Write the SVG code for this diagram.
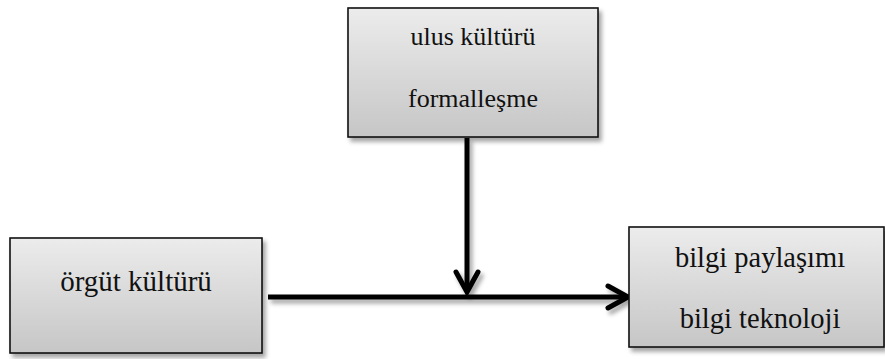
<svg xmlns="http://www.w3.org/2000/svg" width="885" height="359" viewBox="0 0 885 359">
  <defs>
    <linearGradient id="boxFill" x1="0" y1="0" x2="0" y2="1">
      <stop offset="0" stop-color="#ececec"/>
      <stop offset="1" stop-color="#c6c6c6"/>
    </linearGradient>
    <filter id="shadow" x="-10%" y="-10%" width="130%" height="140%">
      <feDropShadow dx="3" dy="4" stdDeviation="2" flood-color="#000" flood-opacity="0.35"/>
    </filter>
    <style>
      .box { fill: url(#boxFill); stroke: #111; stroke-width: 1.6; filter: url(#shadow); }
      .label { font-family: 'Liberation Serif', serif; fill: #111; text-anchor: middle; }
      .line { fill: none; stroke: #000; stroke-width: 5; stroke-linecap: butt; }
      .head { fill: none; stroke: #000; stroke-width: 5; stroke-linecap: round; stroke-linejoin: miter; }
    </style>
  </defs>

  <g id="connectors" filter="url(#shadow)">
    <line class="line" x1="467" y1="138" x2="467" y2="290"/>
    <polyline class="head" points="456,272 467,292 478,272"/>
    <line class="line" x1="268" y1="297" x2="626" y2="297"/>
    <polyline class="head" points="608,286 628,297 608,308"/>
  </g>

  <g id="node-ulus">
    <rect class="box" x="348" y="8" width="250" height="129"/>
    <text class="label" x="473" y="45" font-size="26">ulus kültürü</text>
    <text class="label" x="473" y="107" font-size="26">formalleşme</text>
  </g>

  <g id="node-orgut">
    <rect class="box" x="10" y="238" width="252" height="115"/>
    <text class="label" x="136" y="291" font-size="29">örgüt kültürü</text>
  </g>

  <g id="node-bilgi">
    <rect class="box" x="629" y="227" width="255" height="120"/>
    <text class="label" x="760" y="267" font-size="28.5">bilgi paylaşımı</text>
    <text class="label" x="760" y="328" font-size="28.5">bilgi teknoloji</text>
  </g>
</svg>
